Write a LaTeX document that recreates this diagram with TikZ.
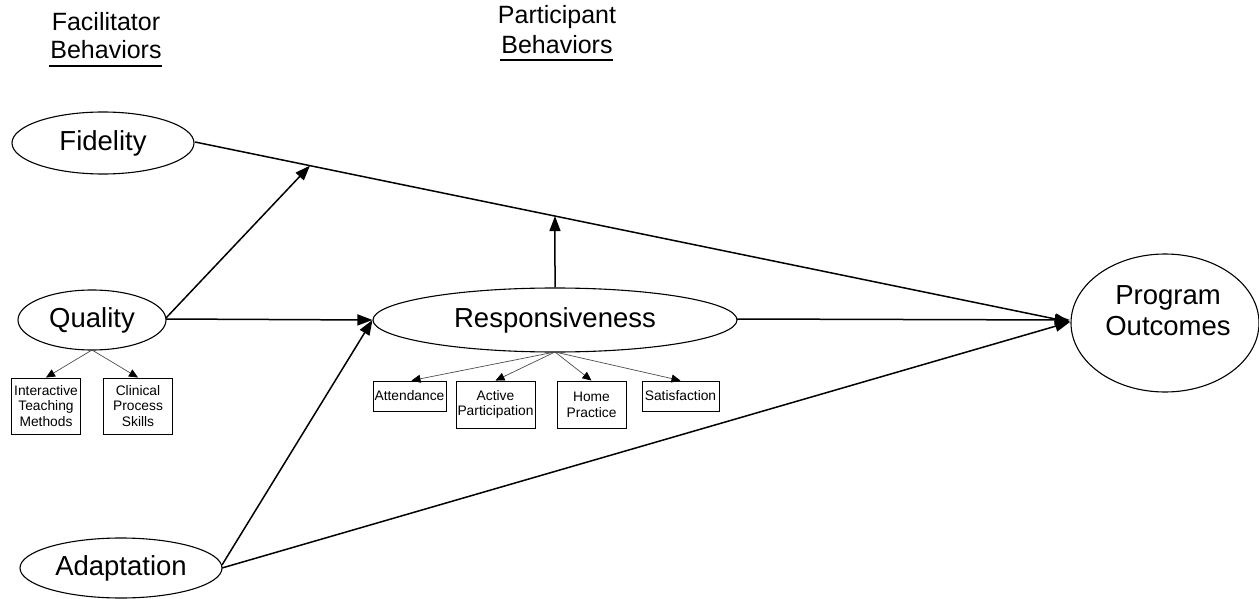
\documentclass[tikz,border=0pt]{standalone}
\usepackage{fontspec}
\setmainfont{Liberation Sans}
\usetikzlibrary{shapes.geometric,arrows.meta,calc}
\begin{document}
\begin{tikzpicture}[x=1pt,y=-1pt,
  oval/.style={draw,ellipse,line width=1.1pt,inner sep=0pt,font=\fontsize{27.5}{31}\selectfont,align=center},
  ovaltext/.style={inner sep=0pt,font=\fontsize{27.5}{31}\selectfont,align=center},
  sbox/.style={draw,line width=0.9pt,inner sep=0pt,font=\fontsize{13.8}{15.8}\selectfont,align=center},
  head/.style={font=\fontsize{25}{28}\selectfont,align=center},
  main/.style={line width=1.5pt,-{Triangle[length=15pt,width=11pt]}},
  sub/.style={line width=0.7pt,draw=black!70,-{Triangle[length=9pt,width=8pt,fill=black,color=black]}}]
\useasboundingbox (0,0) rectangle (1259,599);
% headings
\node[head] (fh1) at (106,22) {Facilitator};
\node[head] (fh2) at (106,50) {Behaviors};
\draw[line width=2pt] (49,66) -- (162,66);
\node[head] (ph1) at (557,17) {Participant};
\node[head] (ph2) at (557,45) {Behaviors};
\draw[line width=2pt] (500,60) -- (613,60);
% ellipses
\node[oval,minimum width=182pt,minimum height=62pt] (fid) at (103,143) {\raisebox{-2pt}{Fidelity}};
\node[oval,minimum width=148pt,minimum height=60pt] (qual) at (92,320) {Quality};
\node[oval,minimum width=202pt,minimum height=60pt] (adap) at (121,568) {Adaptation};
\node[oval,minimum width=364pt,minimum height=64pt] (resp) at (555,320) {Responsiveness};
\node[oval,minimum width=188pt,minimum height=138pt] (po) at (1165,323) {};
\node[ovaltext] (pot) at (1168,311) {Program\\Outcomes};
% boxes
\node[sbox,minimum width=69pt,minimum height=56pt] (itm) at (46,406) {Interactive\\Teaching\\Methods};
\node[sbox,minimum width=69pt,minimum height=56pt] (cps) at (138,406) {Clinical\\Process\\Skills};
\node[sbox,minimum width=73pt,minimum height=30pt] (att) at (409.5,396) {Attendance};
\node[sbox,minimum width=79pt,minimum height=47pt] (act) at (495.5,404.5) {Active\\Participation};
\node[sbox,minimum width=69pt,minimum height=47pt] (hom) at (591.5,404.5) {Home\\Practice};
\node[sbox,minimum width=77pt,minimum height=30pt] (sat) at (680.5,396) {Satisfaction};
% coordinates on the fidelity line
\coordinate (fs) at (195,142);
\coordinate (pw) at (1070,322);
\coordinate (fq) at ($(fs)!0.1314!(pw)$);
\coordinate (fr) at ($(fs)!0.4114!(pw)$);
\coordinate (qb) at (92,350);
\coordinate (rb) at (555,352);
% main arrows
\draw[main] (fs) -- (pw);
\draw[main] (166,318) -- (fq);
\draw[main] (166,319) -- (resp.west);
\draw[main] (resp.north) -- (fr);
\draw[main] (737,319) -- (1070,320);
\draw[main] (222,565) -- (resp.west);
\draw[main] (222,568) -- (pw);
% sub arrows
\draw[sub] (qb) -- (itm.north);
\draw[sub] (qb) -- (cps.north);
\draw[sub] (rb) -- ($(att.north)+(2,0)$);
\draw[sub] (rb) -- (act.north);
\draw[sub] (rb) -- (hom.north);
\draw[sub] (rb) -- (sat.north);
\end{tikzpicture}
\end{document}
